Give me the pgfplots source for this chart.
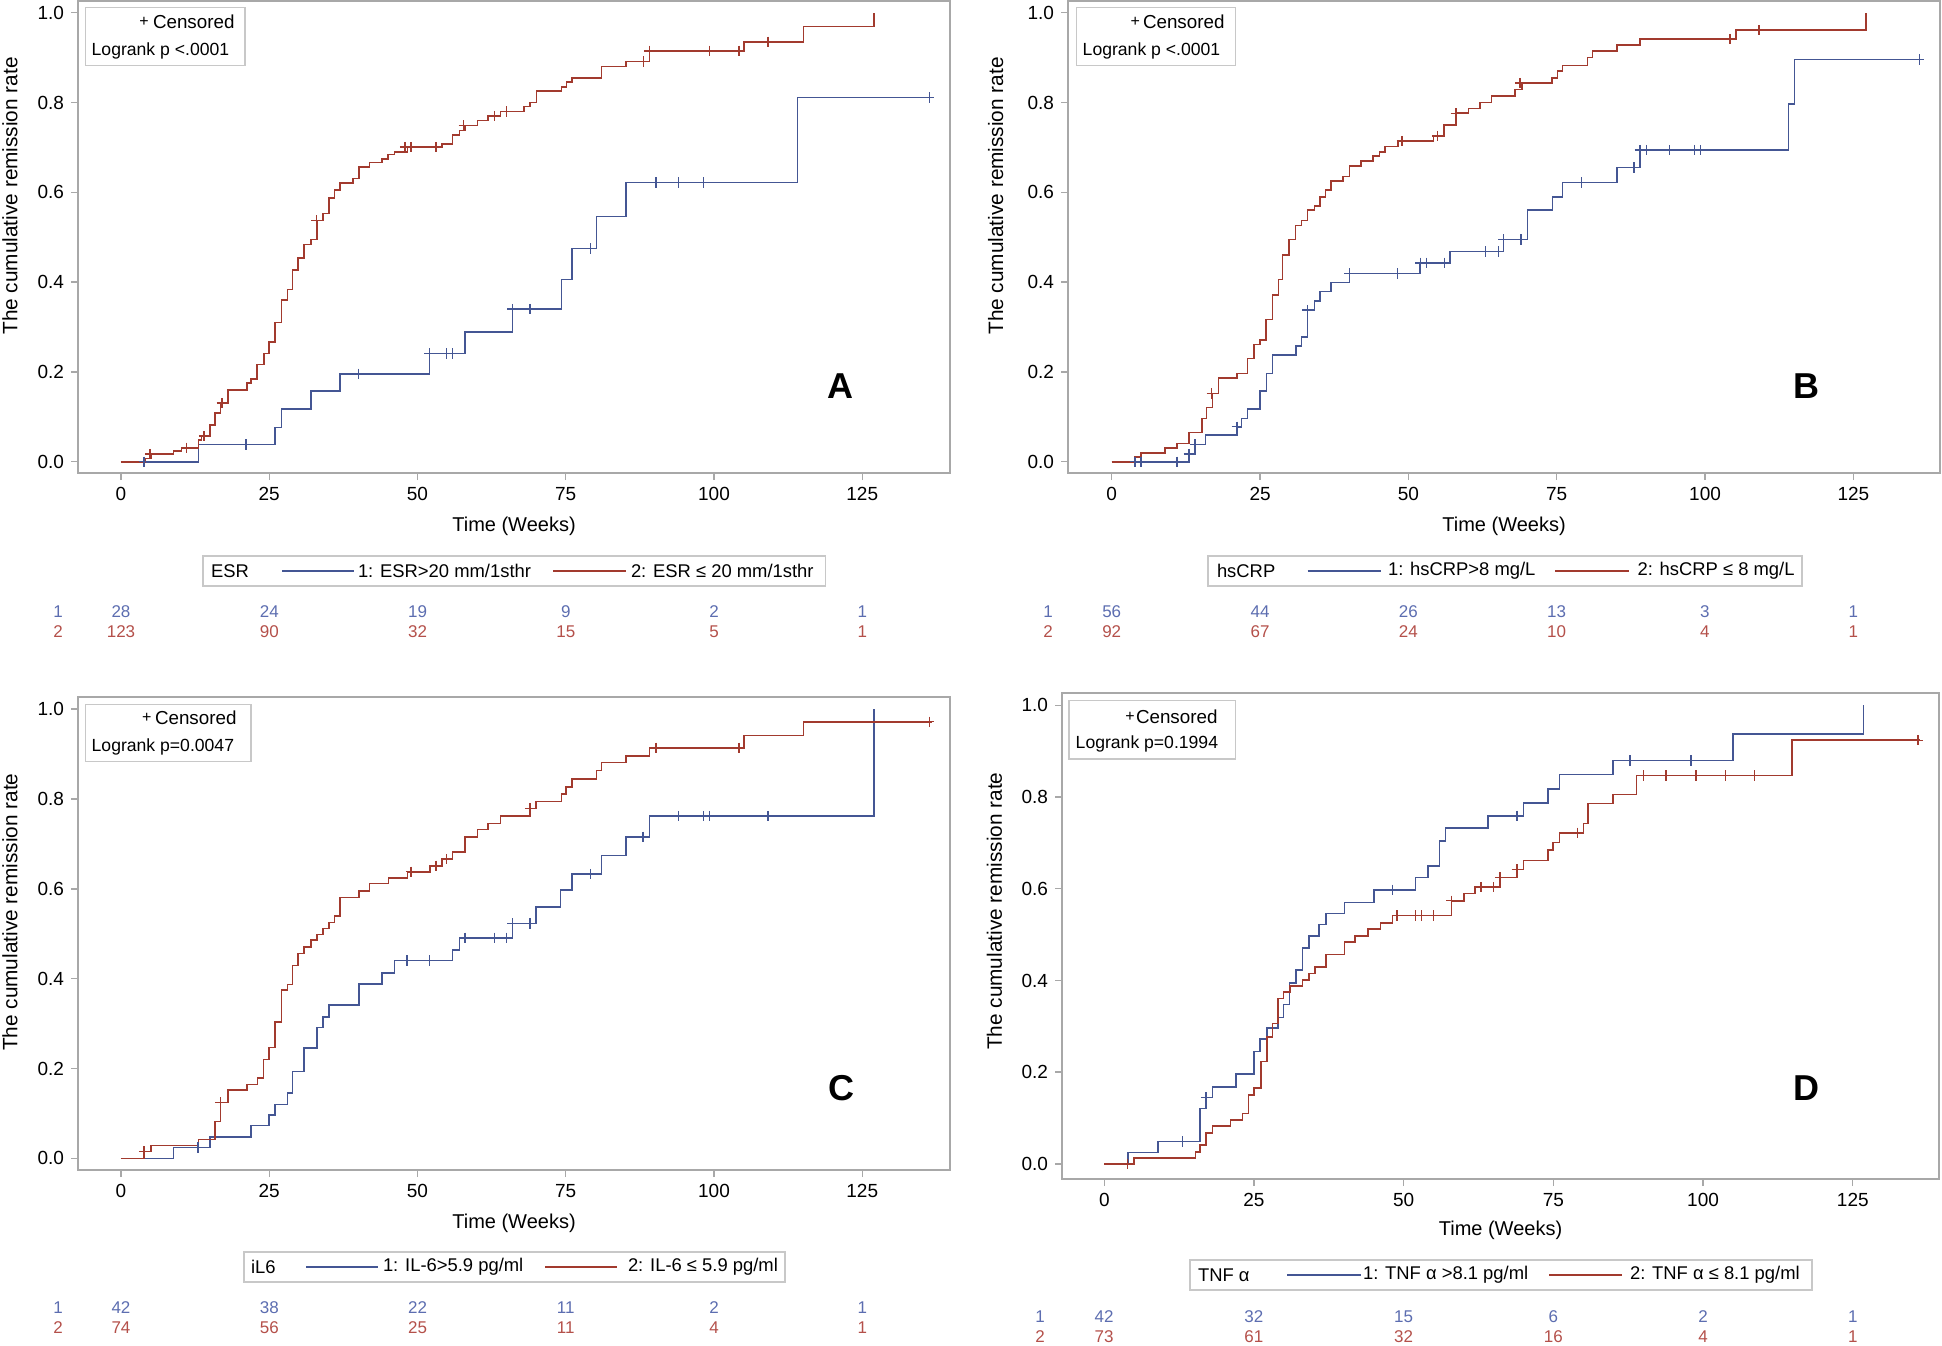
\documentclass[border=0pt]{standalone}
\usepackage{fontspec}
\setmainfont{Liberation Sans}
\usepackage{pgfplots}
\pgfplotsset{compat=1.18}
\definecolor{kmblue}{HTML}{445694}
\definecolor{kmred}{HTML}{A23A2E}
\definecolor{rblue}{HTML}{5C6DB0}
\definecolor{rred}{HTML}{B4504A}
\definecolor{framegray}{HTML}{A8A8A8}
\definecolor{leggray}{HTML}{C8C8C8}
\newcommand{\fs}[1]{\fontsize{#1}{#1}\selectfont}
\pgfplotsset{
  km/.style={
    scale only axis,
    xtick={0,25,50,75,100,125},
    ytick={0,0.2,0.4,0.6,0.8,1},
    yticklabels={0.0,0.2,0.4,0.6,0.8,1.0},
    tick align=outside,
    major tick length=3.5pt,
    xtick pos=bottom, ytick pos=left,
    axis line style={draw=framegray, line width=0.7pt},
    every tick/.style={draw=framegray, line width=0.7pt},
    tick label style={font=\fs{9.5}, text=black},
    /pgf/number format/assume math mode=true,
    xlabel={Time (Weeks)},
    ylabel={The cumulative remission rate},
    xlabel style={font=\fs{10}, at={(axis description cs:0.5,-0.112)}, anchor=center},
    ylabel style={font=\fs{10.4}},
    clip=false,
  },
  bluecurve/.style={const plot, draw=kmblue, line width=0.8pt, mark=none},
  redcurve/.style={const plot, draw=kmred, line width=0.8pt, mark=none},
  bluecens/.style={only marks, mark=+, mark size=2.6pt, mark options={draw=kmblue, line width=0.7pt}},
  redcens/.style={only marks, mark=+, mark size=2.6pt, mark options={draw=kmred, line width=0.7pt}},
}
\begin{document}
\begin{tikzpicture}
\path[use as bounding box] (0,0) rectangle (971pt,-672.5pt);

%% ---------------- Panel A ----------------
\begin{axis}[km, at={(39pt,-0.5pt)}, anchor=north west, width=436pt, height=236pt,
  xmin=-7.25, xmax=139.8, ymin=-0.025, ymax=1.026,
  ylabel style={at={(axis description cs:-0.078,0.587)}, anchor=center}]
\addplot[bluecurve] coordinates {(0,0) (13.04,0.0386) (26.0,0.0765) (27.1,0.117) (32.0,0.158) (36.9,0.196) (52.0,0.241) (58.0,0.289) (66.0,0.340) (74.3,0.406) (76.1,0.475) (80.2,0.546) (85.2,0.622) (114.1,0.811) (136.7,0.811)};
\addplot[bluecens] coordinates {(3.9,0) (21.1,0.0386) (40.1,0.196) (52.0,0.241) (54.9,0.241) (55.9,0.241) (66.0,0.340) (69.0,0.340) (79.2,0.475) (90.2,0.622) (94.0,0.622) (98.2,0.622) (136.3,0.811)};
\addplot[redcurve] coordinates {(0,0) (4.16,0.0074) (5.06,0.017) (8.83,0.0245) (10.2,0.031) (13.04,0.048) (13.6,0.057) (15.0,0.082) (15.85,0.108) (16.8,0.131) (18.0,0.160) (21.2,0.176) (21.9,0.184) (22.9,0.217) (24.1,0.241) (25.0,0.267) (26.0,0.310) (27.1,0.360) (28.05,0.384) (28.9,0.427) (29.9,0.454) (30.9,0.484) (32.0,0.495) (33.1,0.537) (34.1,0.553) (35.1,0.588) (36.0,0.605) (36.9,0.621) (39.1,0.631) (40.1,0.657) (41.9,0.666) (44.0,0.674) (45.0,0.684) (46.1,0.690) (48.3,0.701) (54.1,0.707) (55.9,0.727) (57.1,0.738) (58.0,0.749) (60.1,0.760) (61.9,0.770) (64.0,0.780) (68.0,0.791) (69.0,0.800) (70.1,0.826) (74.3,0.835) (75.1,0.846) (76.1,0.855) (81.0,0.880) (85.2,0.891) (89.1,0.915) (105.1,0.935) (115.1,0.969) (127.0,1.0)};
\addplot[redcens] coordinates {(4.9,0.017) (11.0,0.031) (14.0,0.057) (17.0,0.131) (33.0,0.537) (47.9,0.701) (48.9,0.701) (53.1,0.701) (57.8,0.749) (63.0,0.770) (65.0,0.780) (88.1,0.891) (89.1,0.915) (99.2,0.915) (104.2,0.915) (109.1,0.935)};
\end{axis}

%% ---------------- Panel B ----------------
\begin{axis}[km, at={(534pt,-0.5pt)}, anchor=north west, width=436pt, height=236pt,
  xmin=-7.37, xmax=139.6, ymin=-0.025, ymax=1.026,
  ylabel style={at={(axis description cs:-0.083,0.587)}, anchor=center}]
\addplot[bluecurve] coordinates {(0,0) (13.0,0.017) (14.0,0.0386) (15.8,0.059) (21.1,0.078) (21.9,0.0965) (22.9,0.117) (25.0,0.158) (26.1,0.197) (27.1,0.238) (31.1,0.258) (32.0,0.278) (33.0,0.338) (34.2,0.358) (35.1,0.379) (37.0,0.399) (40.1,0.419) (52.0,0.443) (57.0,0.468) (66.0,0.495) (70.1,0.560) (74.3,0.590) (76.0,0.622) (85.2,0.655) (89.0,0.694) (114.05,0.797) (115.06,0.896) (136.7,0.896)};
\addplot[bluecens] coordinates {(3.9,0) (4.9,0) (11.0,0) (13.0,0.017) (14.0,0.0386) (21.1,0.078) (33.0,0.338) (40.1,0.419) (48.2,0.419) (52.0,0.443) (53.1,0.443) (56.1,0.443) (63.0,0.468) (65.2,0.468) (66.0,0.495) (69.0,0.495) (79.2,0.622) (88.0,0.655) (89.0,0.694) (90.1,0.694) (94.0,0.694) (98.2,0.694) (99.2,0.694) (136.1,0.896)};
\addplot[redcurve] coordinates {(0,0) (3.9,0.011) (4.9,0.020) (9.0,0.031) (11.0,0.041) (13.0,0.065) (15.2,0.0965) (16.0,0.121) (17.0,0.152) (18.0,0.186) (21.1,0.197) (22.9,0.230) (24.0,0.261) (25.0,0.271) (26.0,0.317) (27.1,0.371) (28.1,0.406) (28.8,0.460) (29.9,0.495) (31.0,0.526) (32.0,0.537) (33.0,0.561) (34.2,0.570) (35.1,0.590) (36.0,0.605) (37.0,0.625) (39.0,0.635) (40.1,0.659) (42.0,0.670) (44.0,0.681) (45.1,0.690) (46.1,0.702) (48.2,0.714) (54.2,0.725) (56.0,0.750) (58.0,0.776) (60.1,0.787) (62.1,0.800) (64.0,0.814) (68.0,0.829) (69.1,0.843) (74.2,0.855) (75.1,0.870) (76.0,0.882) (80.2,0.900) (81.0,0.915) (85.2,0.928) (89.0,0.941) (105.2,0.961) (127.1,1.0)};
\addplot[redcens] coordinates {(16.85,0.152) (48.9,0.714) (54.9,0.725) (58.0,0.776) (68.8,0.843) (104.2,0.941) (109.1,0.961)};
\end{axis}

%% ---------------- Panel C ----------------
\begin{axis}[km, at={(39pt,-348.5pt)}, anchor=north west, width=436pt, height=236.5pt,
  xmin=-7.25, xmax=139.8, ymin=-0.026, ymax=1.027,
  ylabel style={at={(axis description cs:-0.078,0.545)}, anchor=center}]
\addplot[bluecurve] coordinates {(0,0) (8.83,0.0245) (15.0,0.048) (21.9,0.073) (25.0,0.0964) (26.0,0.120) (28.05,0.145) (28.95,0.193) (30.9,0.245) (33.1,0.291) (34.1,0.315) (35.1,0.341) (40.1,0.388) (44.0,0.412) (46.1,0.440) (55.9,0.464) (57.1,0.491) (66.0,0.523) (70.0,0.560) (74.1,0.597) (76.1,0.633) (81.0,0.674) (85.2,0.716) (89.1,0.762) (127.0,1.0)};
\addplot[bluecens] coordinates {(13.0,0.0245) (48.2,0.440) (52.0,0.440) (58.0,0.491) (63.0,0.491) (65.0,0.491) (66.0,0.523) (69.0,0.523) (79.2,0.633) (88.0,0.716) (94.0,0.762) (98.2,0.762) (99.2,0.762) (109.1,0.762)};
\addplot[redcurve] coordinates {(0,0) (3.93,0.0148) (5.06,0.0282) (13.04,0.0423) (15.85,0.0816) (16.8,0.124) (18.0,0.152) (21.2,0.164) (23.0,0.179) (24.06,0.220) (25.0,0.247) (26.0,0.303) (27.1,0.375) (28.05,0.387) (28.95,0.429) (29.9,0.456) (30.9,0.471) (32.0,0.486) (33.1,0.498) (34.1,0.512) (35.1,0.525) (36.0,0.539) (36.9,0.581) (40.1,0.595) (41.9,0.612) (45.1,0.624) (48.3,0.638) (52.1,0.651) (54.1,0.666) (55.9,0.682) (58.0,0.716) (60.1,0.732) (61.9,0.745) (64.0,0.762) (69.0,0.779) (70.0,0.794) (74.3,0.811) (75.05,0.827) (76.1,0.844) (80.2,0.863) (81.0,0.881) (85.2,0.896) (89.1,0.914) (105.1,0.941) (115.1,0.972) (136.7,0.972)};
\addplot[redcens] coordinates {(3.9,0.0148) (16.8,0.124) (48.9,0.638) (53.1,0.651) (54.9,0.666) (69.0,0.779) (90.2,0.914) (104.2,0.914) (136.3,0.972)};
\end{axis}

%% ---------------- Panel D ----------------
\begin{axis}[km, at={(531pt,-346.5pt)}, anchor=north west, width=438.5pt, height=243pt,
  xmin=-7.06, xmax=139.4, ymin=-0.033, ymax=1.027,
  xlabel style={at={(axis description cs:0.5,-0.105)}},
  ylabel style={at={(axis description cs:-0.077,0.551)}, anchor=center}]
\addplot[bluecurve] coordinates {(0,0) (3.95,0.0247) (8.96,0.0487) (16.0,0.121) (17.0,0.145) (18.1,0.168) (22.0,0.196) (25.0,0.245) (26.0,0.272) (27.2,0.296) (29.0,0.319) (29.9,0.348) (30.9,0.395) (32.05,0.423) (33.1,0.471) (34.2,0.497) (35.9,0.522) (37.0,0.546) (40.1,0.570) (45.0,0.598) (52.0,0.625) (54.1,0.650) (56.0,0.704) (57.0,0.733) (64.05,0.759) (70.0,0.787) (74.1,0.817) (76.0,0.849) (85.0,0.880) (105.0,0.938) (126.8,1.0)};
\addplot[bluecens] coordinates {(13.1,0.0487) (17.0,0.145) (48.1,0.598) (68.9,0.759) (87.8,0.880) (98.0,0.880)};
\addplot[redcurve] coordinates {(0,0) (5.0,0.0123) (15.2,0.0254) (16.0,0.0414) (17.0,0.0668) (18.1,0.0828) (21.1,0.0959) (23.1,0.110) (24.1,0.150) (25.0,0.165) (26.2,0.223) (27.2,0.277) (28.1,0.306) (29.0,0.361) (29.9,0.375) (31.05,0.388) (33.1,0.401) (34.2,0.415) (35.2,0.430) (37.0,0.457) (40.1,0.484) (41.9,0.497) (44.0,0.512) (46.1,0.526) (48.1,0.542) (58.0,0.574) (60.1,0.590) (61.9,0.604) (66.1,0.625) (68.9,0.642) (70.0,0.662) (74.1,0.684) (74.9,0.701) (76.0,0.722) (80.0,0.742) (80.8,0.786) (85.0,0.806) (88.9,0.847) (114.8,0.924) (136.3,0.924)};
\addplot[redcens] coordinates {(3.9,0) (48.9,0.542) (52.0,0.542) (53.0,0.542) (55.0,0.542) (58.0,0.574) (62.9,0.604) (65.0,0.604) (66.1,0.625) (68.9,0.642) (79.0,0.722) (90.0,0.847) (93.8,0.847) (98.8,0.847) (103.7,0.847) (108.6,0.847) (135.9,0.924)};
\end{axis}

%% ---------------- decorations (pixel coordinates) ----------------
\begin{scope}[x=0.5pt, y=-0.5pt, every node/.style={inner sep=0pt, outer sep=0pt}]
  % in-plot boxes
  \draw[leggray, line width=0.6pt] (85.7,7.3) rectangle (245,65.7);
  \node[anchor=center, font=\fs{8}] at (144,22) {+};
  \node[anchor=west, font=\fs{9.4}] at (153,21.7) {Censored};
  \node[anchor=west, font=\fs{8.8}] at (91.7,50.7) {Logrank p <.0001};

  \draw[leggray, line width=0.6pt] (1076.7,7.3) rectangle (1235.7,65.7);
  \node[anchor=center, font=\fs{8}] at (1135.3,22) {+};
  \node[anchor=west, font=\fs{9.4}] at (1143,21.7) {Censored};
  \node[anchor=west, font=\fs{8.8}] at (1082.7,50.7) {Logrank p <.0001};

  \draw[leggray, line width=0.6pt] (85.7,704.3) rectangle (251,761.7);
  \node[anchor=center, font=\fs{8}] at (146.7,718) {+};
  \node[anchor=west, font=\fs{9.4}] at (155,717.3) {Censored};
  \node[anchor=west, font=\fs{8.8}] at (91.7,747.3) {Logrank p=0.0047};

  \draw[leggray, line width=0.6pt] (1069,700.7) rectangle (1235.7,759);
  \node[anchor=center, font=\fs{8}] at (1130,717) {+};
  \node[anchor=west, font=\fs{9.4}] at (1136,716.7) {Censored};
  \node[anchor=west, font=\fs{8.8}] at (1075.7,744) {Logrank p=0.1994};

  % panel letters
  \node[font=\fs{18}\bfseries] at (840,386) {A};
  \node[font=\fs{18}\bfseries] at (1806,386) {B};
  \node[font=\fs{18}\bfseries] at (841,1088) {C};
  \node[font=\fs{18}\bfseries] at (1806,1088) {D};

  % legends below
  \draw[leggray, line width=0.6pt] (203,556) rectangle (825.5,586);
  \node[anchor=west, font=\fs{9.2}] at (211,571) {ESR};
  \draw[kmblue, line width=0.8pt] (282,571) -- (354,571);
  \node[anchor=west, font=\fs{9.2}] at (358,571) {1: ESR>20 mm/1sthr};
  \draw[kmred, line width=0.8pt] (553,571) -- (626,571);
  \node[anchor=west, font=\fs{9.2}] at (631,571) {2: ESR ≤ 20 mm/1sthr};

  \draw[leggray, line width=0.6pt] (1208,556) rectangle (1802,586);
  \node[anchor=west, font=\fs{9.2}] at (1217,571) {hsCRP};
  \draw[kmblue, line width=0.8pt] (1307.5,571) -- (1381,571);
  \node[anchor=west, font=\fs{9.2}] at (1388,571) {1: hsCRP>8 mg/L};
  \draw[kmred, line width=0.8pt] (1555,571) -- (1629,571);
  \node[anchor=west, font=\fs{9.2}] at (1637.5,571) {2: hsCRP ≤ 8 mg/L};

  \draw[leggray, line width=0.6pt] (244,1252) rectangle (785,1282);
  \node[anchor=west, font=\fs{9.2}] at (251,1267) {iL6};
  \draw[kmblue, line width=0.8pt] (306,1267) -- (378,1267);
  \node[anchor=west, font=\fs{9.2}] at (383,1267) {1: IL-6>5.9 pg/ml};
  \draw[kmred, line width=0.8pt] (545,1267) -- (617,1267);
  \node[anchor=west, font=\fs{9.2}] at (628,1267) {2: IL-6 ≤ 5.9 pg/ml};

  \draw[leggray, line width=0.6pt] (1190,1260) rectangle (1812,1290);
  \node[anchor=west, font=\fs{9.2}] at (1198,1275) {TNF α};
  \draw[kmblue, line width=0.8pt] (1287,1275) -- (1361,1275);
  \node[anchor=west, font=\fs{9.2}] at (1363,1275) {1: TNF α >8.1 pg/ml};
  \draw[kmred, line width=0.8pt] (1549,1275) -- (1622,1275);
  \node[anchor=west, font=\fs{9.2}] at (1630,1275) {2: TNF α ≤ 8.1 pg/ml};

  % risk tables
  \node[font=\fs{8.5}, text=rblue] at (58,612) {1};
  \node[font=\fs{8.5}, text=rred] at (58,632) {2};
  \foreach \v [count=\i from 0] in {28,24,19,9,2,1}
    \node[font=\fs{8.5}, text=rblue] at ({121+148.25*\i},612) {\v};
  \foreach \v [count=\i from 0] in {123,90,32,15,5,1}
    \node[font=\fs{8.5}, text=rred] at ({121+148.25*\i},632) {\v};

  \node[font=\fs{8.5}, text=rblue] at (1048,612) {1};
  \node[font=\fs{8.5}, text=rred] at (1048,632) {2};
  \foreach \v [count=\i from 0] in {56,44,26,13,3,1}
    \node[font=\fs{8.5}, text=rblue] at ({1111.7+148.3*\i},612) {\v};
  \foreach \v [count=\i from 0] in {92,67,24,10,4,1}
    \node[font=\fs{8.5}, text=rred] at ({1111.7+148.3*\i},632) {\v};

  \node[font=\fs{8.5}, text=rblue] at (58,1308) {1};
  \node[font=\fs{8.5}, text=rred] at (58,1328) {2};
  \foreach \v [count=\i from 0] in {42,38,22,11,2,1}
    \node[font=\fs{8.5}, text=rblue] at ({121+148.25*\i},1308) {\v};
  \foreach \v [count=\i from 0] in {74,56,25,11,4,1}
    \node[font=\fs{8.5}, text=rred] at ({121+148.25*\i},1328) {\v};

  \node[font=\fs{8.5}, text=rblue] at (1040,1317) {1};
  \node[font=\fs{8.5}, text=rred] at (1040,1337) {2};
  \foreach \v [count=\i from 0] in {42,32,15,6,2,1}
    \node[font=\fs{8.5}, text=rblue] at ({1104+149.75*\i},1317) {\v};
  \foreach \v [count=\i from 0] in {73,61,32,16,4,1}
    \node[font=\fs{8.5}, text=rred] at ({1104+149.75*\i},1337) {\v};
\end{scope}
\end{tikzpicture}
\end{document}
